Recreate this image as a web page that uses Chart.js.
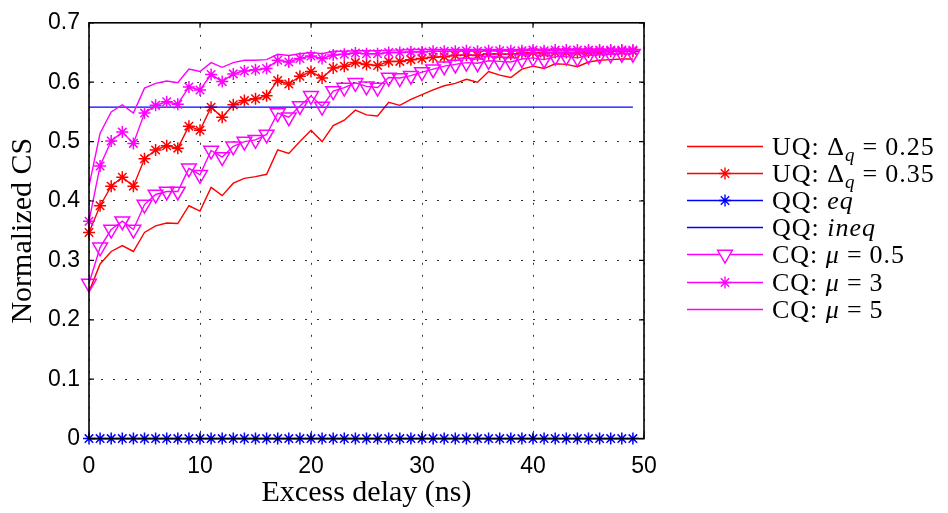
<!DOCTYPE html>
<html>
<head>
<meta charset="utf-8">
<script src="https://cdn.jsdelivr.net/npm/chart.js@4/dist/chart.umd.min.js"></script>
<style>
  body { margin: 0; background: #fff; }
  #wrap { position: relative; width: 948px; height: 513px; }
  #legend {
    position: absolute; left: 687px; top: 133px;
    font-family: "Liberation Serif", serif; font-size: 26px; color: #000;
    letter-spacing: 1px;
  }
  #legend .row { height: 27.1px; display: flex; align-items: center; white-space: nowrap; }
  #legend svg { width: 76px; height: 27px; flex: none; }
  #legend .row > span { margin-left: 9px; line-height: 27px; }
  #legend sub { font-size: 19px; vertical-align: -6px; line-height: 0; }
  #legend .eq { padding: 0 7px; }
</style>
</head>
<body>
<div id="wrap">
  <canvas id="myChart" width="948" height="513"></canvas>
  <div id="legend"></div>
</div>
<script>
// excess delay (ns)
var delays = [0,1,2,3,4,5,6,7,8,9,10,11,12,13,14,15,16,17,18,19,20,21,22,23,24,
              25,26,27,28,29,30,31,32,33,34,35,36,37,38,39,40,41,42,43,44,45,46,47,48,49];

var uq025 = [0.247,0.294,0.315,0.325,0.315,0.347,0.358,0.363,0.362,0.392,0.383,0.423,0.409,0.430,0.438,
             0.441,0.445,0.486,0.480,0.500,0.519,0.500,0.527,0.536,0.553,0.545,0.543,0.566,0.561,0.571,
             0.579,0.587,0.594,0.598,0.605,0.600,0.618,0.612,0.608,0.622,0.627,0.623,0.631,0.630,0.626,
             0.634,0.637,0.638,0.639,0.639];
var uq035 = [0.347,0.392,0.425,0.440,0.425,0.471,0.486,0.493,0.489,0.526,0.519,0.558,0.541,0.562,0.569,
             0.572,0.577,0.603,0.597,0.610,0.618,0.607,0.624,0.627,0.633,0.630,0.628,0.635,0.635,0.638,
             0.640,0.642,0.643,0.645,0.646,0.645,0.648,0.647,0.647,0.649,0.650,0.649,0.650,0.650,0.650,
             0.651,0.651,0.652,0.652,0.652];
var qqEq = [0,0,0,0,0,0,0,0,0,0,0,0,0,0,0,0,0,0,0,0,0,0,0,0,0,
            0,0,0,0,0,0,0,0,0,0,0,0,0,0,0,0,0,0,0,0,0,0,0,0,0];
var qqIneq = [0.558,0.558,0.558,0.558,0.558,0.558,0.558,0.558,0.558,0.558,0.558,0.558,0.558,0.558,0.558,
              0.558,0.558,0.558,0.558,0.558,0.558,0.558,0.558,0.558,0.558,0.558,0.558,0.558,0.558,0.558,
              0.558,0.558,0.558,0.558,0.558,0.558,0.558,0.558,0.558,0.558,0.558,0.558,0.558,0.558,0.558,
              0.558,0.558,0.558,0.558,0.558];
var cq05 = [0.261,0.322,0.352,0.366,0.352,0.394,0.411,0.416,0.416,0.455,0.444,0.485,0.474,0.492,0.500,
            0.503,0.512,0.548,0.541,0.560,0.577,0.559,0.585,0.591,0.599,0.593,0.591,0.608,0.607,0.611,
            0.617,0.622,0.627,0.630,0.633,0.632,0.636,0.635,0.634,0.639,0.641,0.638,0.643,0.643,0.641,
            0.645,0.646,0.647,0.648,0.648];
var cq3 = [0.366,0.459,0.501,0.516,0.497,0.548,0.561,0.567,0.563,0.592,0.587,0.613,0.601,0.614,0.619,
           0.621,0.623,0.637,0.634,0.640,0.644,0.640,0.646,0.647,0.649,0.648,0.648,0.650,0.650,0.651,
           0.651,0.652,0.652,0.652,0.653,0.652,0.653,0.653,0.653,0.653,0.654,0.653,0.654,0.654,0.654,
           0.654,0.654,0.654,0.654,0.654];
var cq5 = [0.425,0.514,0.550,0.562,0.548,0.590,0.598,0.602,0.599,0.622,0.618,0.633,0.625,0.633,0.637,
           0.637,0.638,0.647,0.645,0.648,0.650,0.648,0.652,0.652,0.653,0.653,0.653,0.654,0.654,0.655,
           0.655,0.655,0.655,0.655,0.655,0.655,0.655,0.655,0.655,0.655,0.656,0.655,0.656,0.656,0.656,
           0.656,0.656,0.656,0.656,0.656];

var xTicks = [0, 10, 20, 30, 40, 50];
var yTicks = [0, 0.1, 0.2, 0.3, 0.4, 0.5, 0.6, 0.7];

var RED = '#ff0000', BLUE = '#0000ff', MAG = '#ff00ff';

function pts(values) {
  return values.map(function(v, i) { return {x: delays[i], y: v}; });
}

var EQ = '<span class="eq">=</span>';
// legend label html, marker, color
var series = [
  {data: uq025, color: RED,  marker: false,      label: 'UQ: Δ<sub><i>q</i></sub>' + EQ + '0.25'},
  {data: uq035, color: RED,  marker: 'star',     label: 'UQ: Δ<sub><i>q</i></sub>' + EQ + '0.35'},
  {data: qqEq,  color: BLUE, marker: 'star',     label: 'QQ: <i>eq</i>'},
  {data: qqIneq,color: BLUE, marker: false,      label: 'QQ: <i>ineq</i>'},
  {data: cq05,  color: MAG,  marker: 'triangle', label: 'CQ: <i>μ</i>' + EQ + '0.5'},
  {data: cq3,   color: MAG,  marker: 'star',     label: 'CQ: <i>μ</i>' + EQ + '3'},
  {data: cq5,   color: MAG,  marker: false,      label: 'CQ: <i>μ</i>' + EQ + '5'}
];

var datasets = series.map(function(s, i) {
  return {
    data: pts(s.data),
    borderColor: s.color,
    backgroundColor: s.color,
    borderWidth: 1.4,
    pointStyle: s.marker || 'circle',
    pointRadius: s.marker ? (s.marker == 'triangle' ? 8.5 : 6) : 0,
    pointRotation: s.marker == 'triangle' ? 180 : 0,
    pointBorderColor: s.color,
    pointBackgroundColor: 'rgba(0,0,0,0)',
    pointBorderWidth: 1.5,
    tension: 0,
    clip: false,
    order: series.length - i  // later series drawn on top, like matlab
  };
});

// box around the axes with inward ticks on all four sides
var boxPlugin = {
  id: 'boxTicks',
  afterDatasetsDraw: function(chart) {
    var ctx = chart.ctx, a = chart.chartArea;
    var x = chart.scales.x, y = chart.scales.y;
    ctx.save();
    ctx.strokeStyle = '#000';
    ctx.lineWidth = 1.6;
    ctx.strokeRect(a.left, a.top, a.right - a.left, a.bottom - a.top);
    ctx.lineWidth = 1.2;
    ctx.beginPath();
    x.ticks.forEach(function(t) {
      var px = x.getPixelForValue(t.value);
      ctx.moveTo(px, a.bottom); ctx.lineTo(px, a.bottom - 5);
      ctx.moveTo(px, a.top); ctx.lineTo(px, a.top + 5);
    });
    y.ticks.forEach(function(t) {
      var py = y.getPixelForValue(t.value);
      ctx.moveTo(a.left, py); ctx.lineTo(a.left + 5, py);
      ctx.moveTo(a.right, py); ctx.lineTo(a.right - 5, py);
    });
    ctx.stroke();
    ctx.restore();
  }
};

var tickFont = {family: '"Liberation Sans", Arial, sans-serif', size: 23};
var titleFont = {family: '"Liberation Serif", serif', size: 30};

var ctx = document.getElementById('myChart').getContext('2d');
var chart = new Chart(ctx, {
  type: 'line',
  data: {datasets: datasets},
  options: {
    responsive: false,
    animation: false,
    devicePixelRatio: 1,
    layout: {padding: {left: 0, right: 304, top: 19, bottom: 0}},
    plugins: {legend: {display: false}, tooltip: {enabled: false}},
    scales: {
      x: {
        type: 'linear', min: 0, max: 50,
        afterBuildTicks: function(s) { s.ticks = xTicks.map(function(v) { return {value: v}; }); },
        afterFit: function(s) { s.height = 74.4; },
        ticks: {font: tickFont, color: '#000', padding: 14, maxRotation: 0},
        grid: {color: '#333', lineWidth: 1, drawTicks: false},
        border: {display: false, dash: [2, 10]},
        title: {display: true, text: 'Excess delay (ns)', font: titleFont, color: '#000',
                padding: {top: 0, bottom: 2}}
      },
      y: {
        type: 'linear', min: 0, max: 0.7,
        afterBuildTicks: function(s) { s.ticks = yTicks.map(function(v) { return {value: v}; }); },
        afterFit: function(s) { s.width = 89; },
        ticks: {font: tickFont, color: '#000', padding: 9,
                callback: function(v) { return String(v); }},
        grid: {color: '#333', lineWidth: 1, drawTicks: false},
        border: {display: false, dash: [2, 10]},
        title: {display: true, text: 'Normalized CS', font: titleFont, color: '#000',
                padding: {top: 5, bottom: 0}}
      }
    }
  },
  plugins: [boxPlugin]
});

// legend, matlab style: line with marker in the middle
var legendEl = document.getElementById('legend');
series.forEach(function(s) {
  var mk = '';
  if (s.marker == 'star') {
    mk = '<path d="M38 7.5v12M32 13.5h12M33.8 9.3l8.4 8.4M33.8 17.7l8.4-8.4" stroke="' + s.color +
         '" stroke-width="1.4" fill="none"/>';
  } else if (s.marker == 'triangle') {
    mk = '<path d="M30.6 9.3h14.8L38 22z" stroke="' + s.color + '" stroke-width="1.4" fill="#fff"/>';
  }
  legendEl.insertAdjacentHTML('beforeend',
    '<div class="row"><svg viewBox="0 0 76 27"><line x1="0" y1="13.5" x2="76" y2="13.5" stroke="' +
    s.color + '" stroke-width="1.4"/>' + mk + '</svg><span>' + s.label + '</span></div>');
});
</script>
</body>
</html>
